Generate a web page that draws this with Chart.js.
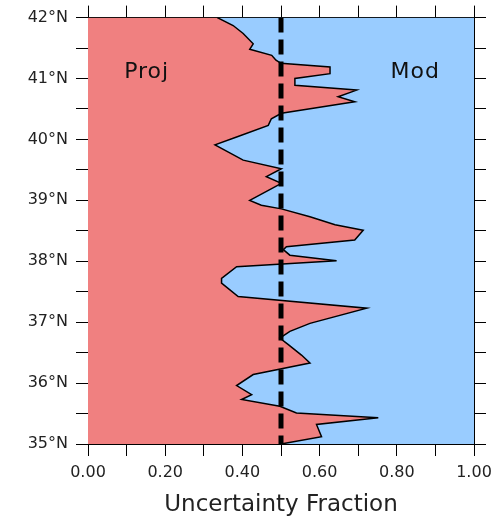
<!DOCTYPE html>
<html>
<head>
<meta charset="utf-8">
<script src="https://cdn.jsdelivr.net/npm/chart.js@4/dist/chart.umd.min.js"></script>
<style>
    html, body { margin: 0; padding: 0; background: #ffffff; }
    #wrap { width: 502px; height: 519px; }
</style>
</head>
<body>
<div id="wrap"><canvas id="uncChart"></canvas></div>
<script>
// ==== DONNÉES ====

// Latitudes (du nord au sud)
const latitudes = [
    42.00, 41.87, 41.74, 41.57, 41.48, 41.38, 41.30, 41.25, 41.19, 41.08,
    41.00, 40.89, 40.81, 40.70, 40.62, 40.43, 40.34, 40.23, 40.04, 39.91,
    39.66, 39.52, 39.39, 39.28, 39.00, 38.92, 38.86, 38.73, 38.60, 38.51,
    38.35, 38.24, 38.19, 38.10, 38.01, 37.91, 37.72, 37.64, 37.42, 37.23,
    36.98, 36.85, 36.74, 36.63, 36.46, 36.33, 36.14, 35.96, 35.81, 35.73,
    35.62, 35.51, 35.43, 35.32, 35.12, 35.00
];

// Fraction d'incertitude due aux projections
const projFraction = [
    0.335, 0.376, 0.402, 0.428, 0.419, 0.476, 0.487, 0.500, 0.627, 0.627,
    0.536, 0.536, 0.696, 0.648, 0.691, 0.501, 0.475, 0.467, 0.385, 0.329,
    0.402, 0.501, 0.462, 0.501, 0.419, 0.449, 0.501, 0.575, 0.640, 0.713,
    0.691, 0.514, 0.506, 0.523, 0.644, 0.385, 0.346, 0.346, 0.389, 0.722,
    0.575, 0.523, 0.497, 0.519, 0.553, 0.575, 0.428, 0.385, 0.424, 0.398,
    0.497, 0.540, 0.752, 0.592, 0.605, 0.500
];

// Ligne de référence (moitié)
const halfLine = [0.5, 0.5];
const halfLats = [42, 35];

// Étiquettes des axes
const xTickLabels = ['0.00', '0.20', '0.40', '0.60', '0.80', '1.00'];
const yTickLabels = ['35°N', '36°N', '37°N', '38°N', '39°N', '40°N', '41°N', '42°N'];

// Annotations dans le graphique
const zoneLabels = ['Proj', 'Mod'];
const zoneX = [0.152, 0.848];
const zoneLat = [41.1, 41.1];

const projColor = '#f08080';
const modColor = '#99ccff';

// ==== GRAPHIQUE ====

document.addEventListener('DOMContentLoaded', function() {
    initializeChart();
});

/**
 * Étiquettes "Proj" / "Mod" dans la zone de tracé
 */
const zoneLabelPlugin = {
    id: 'zoneLabels',
    afterDatasetsDraw(chart) {
        const ctx = chart.ctx;
        const xs = chart.scales.x;
        const ys = chart.scales.y;
        ctx.save();
        ctx.font = '22px "DejaVu Sans"';
        ctx.letterSpacing = '1px';
        ctx.fillStyle = '#111111';
        ctx.textAlign = 'center';
        ctx.textBaseline = 'middle';
        zoneLabels.forEach((txt, i) => {
            ctx.fillText(txt, xs.getPixelForValue(zoneX[i]), ys.getPixelForValue(zoneLat[i]));
        });
        ctx.restore();
    }
};

function initializeChart() {
    const ctx = document.getElementById('uncChart').getContext('2d');
    const curve = latitudes.map((lat, i) => ({ x: projFraction[i], y: lat }));
    const dashed = halfLats.map((lat, i) => ({ x: halfLine[i], y: lat }));

    const tickFont = { family: '"DejaVu Sans"', size: 16 };

    // Configuration commune des axes (ticks seulement, pas de grille)
    const plainGrid = {
        display: true,
        drawOnChartArea: false,
        drawTicks: true,
        tickLength: 12,
        color: '#000000',
        lineWidth: 1
    };

    window.uncChart = new Chart(ctx, {
        type: 'line',
        data: {
            datasets: [
                {
                    data: dashed,
                    borderColor: '#000000',
                    borderWidth: 5,
                    borderDash: [15, 7],
                    pointRadius: 0,
                    fill: false,
                    order: 0
                },
                {
                    data: curve,
                    borderColor: '#000000',
                    borderWidth: 1.5,
                    backgroundColor: projColor,
                    pointRadius: 0,
                    tension: 0,
                    fill: { value: 0 },
                    order: 1
                },
                {
                    data: curve,
                    borderWidth: 0,
                    borderColor: 'rgba(0,0,0,0)',
                    backgroundColor: modColor,
                    pointRadius: 0,
                    tension: 0,
                    fill: { value: 1 },
                    order: 2
                }
            ]
        },
        options: {
            indexAxis: 'y',
            responsive: true,
            maintainAspectRatio: false,
            animation: false,
            layout: { padding: 0 },
            plugins: {
                legend: { display: false },
                tooltip: { enabled: false }
            },
            scales: {
                x: {
                    type: 'linear',
                    position: 'bottom',
                    min: 0,
                    max: 1,
                    grid: plainGrid,
                    border: { display: true, color: '#000000', width: 1 },
                    ticks: {
                        stepSize: 0.1,
                        autoSkip: false,
                        maxRotation: 0,
                        padding: 7,
                        color: '#222222',
                        font: tickFont,
                        callback: function(value) {
                            const k = Math.round(value * 10);
                            return k % 2 === 0 ? xTickLabels[k / 2] : '';
                        }
                    },
                    title: {
                        display: true,
                        text: 'Uncertainty Fraction',
                        color: '#222222',
                        font: { family: '"DejaVu Sans"', size: 23 },
                        padding: { top: 0, bottom: 0 }
                    },
                    afterFit: function(scale) { scale.height = 75; }
                },
                x2: {
                    type: 'linear',
                    axis: 'x',
                    position: 'top',
                    min: 0,
                    max: 1,
                    grid: plainGrid,
                    border: { display: true, color: '#000000', width: 1 },
                    ticks: { stepSize: 0.1, display: false },
                    afterFit: function(scale) { scale.height = 17; }
                },
                y: {
                    type: 'linear',
                    position: 'left',
                    min: 35,
                    max: 42,
                    grid: plainGrid,
                    border: { display: true, color: '#000000', width: 1 },
                    ticks: {
                        stepSize: 0.5,
                        autoSkip: false,
                        padding: 8,
                        color: '#222222',
                        font: tickFont,
                        callback: function(value) {
                            const k = Math.round(value * 2);
                            return k % 2 === 0 ? yTickLabels[k / 2 - 35] : '';
                        }
                    },
                    afterFit: function(scale) { scale.width = 88; }
                },
                y2: {
                    type: 'linear',
                    axis: 'y',
                    position: 'right',
                    min: 35,
                    max: 42,
                    grid: plainGrid,
                    border: { display: true, color: '#000000', width: 1 },
                    ticks: { stepSize: 0.5, display: false },
                    afterFit: function(scale) { scale.width = 28; }
                }
            }
        },
        plugins: [zoneLabelPlugin]
    });
}
</script>
</body>
</html>
